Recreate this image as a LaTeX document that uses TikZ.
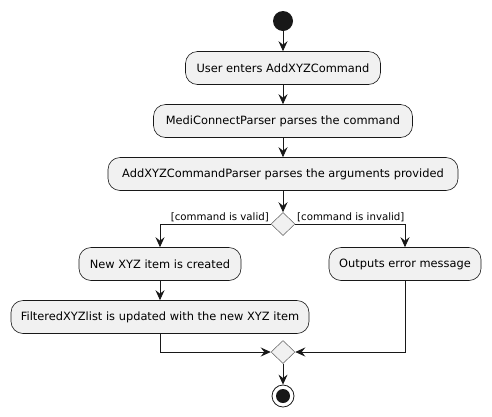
\documentclass[tikz,border=0pt]{standalone}
\usepackage{fontspec}
\setmainfont{DejaVu Sans}
\usetikzlibrary{arrows.meta,shapes.geometric}
\definecolor{boxfill}{HTML}{F1F1F1}
\definecolor{lin}{HTML}{181818}
\tikzset{
  act/.style={draw=lin, line width=0.6pt, fill=boxfill, rounded corners=12pt, minimum height=33pt, inner sep=0pt, font=\fontsize{11.4}{14}\selectfont, text=black},
  dec/.style={draw=lin!70, line width=0.5pt, fill=boxfill, diamond, minimum width=24pt, minimum height=23pt, inner sep=0pt, shape aspect=1},
  flow/.style={draw=lin, line width=0.8pt, -{Stealth[length=10pt,width=9pt,inset=3.5pt]}},
  lbl/.style={font=\fontsize{10.2}{12}\selectfont, inner sep=1pt}
}
\begin{document}
\begin{tikzpicture}[x=1pt,y=-1pt]
\useasboundingbox (0,0) rectangle (492,416);
\node[circle, fill=lin, minimum size=20pt, inner sep=0pt] (start) at (283,21) {};
\node[act, minimum width=195pt] (a1) at (283,68) {User enters AddXYZCommand};
\node[act, minimum width=259pt] (a2) at (283,121) {MediConnectParser parses the command};
\node[act, minimum width=350pt] (a3) at (283,174) {AddXYZCommandParser parses the arguments provided};
\node[dec] (d1) at (283,224) {};
\node[act, minimum width=162pt] (a4) at (160,264) {New XYZ item is created};
\node[act, minimum width=152pt] (a5) at (405,264) {Outputs error message};
\node[act, minimum width=298pt] (a6) at (160,317) {FilteredXYZlist is updated with the new XYZ item};
\node[dec] (d2) at (283,352) {};
\node[circle, draw=lin, line width=0.8pt, fill=white, minimum size=22pt, inner sep=0pt] (endo) at (283,396) {};
\node[circle, fill=lin, minimum size=14pt, inner sep=0pt] (endi) at (283,396) {};

\draw[flow] (start) -- (a1);
\draw[flow] (a1) -- (a2);
\draw[flow] (a2) -- (a3);
\draw[flow] (a3) -- (d1);
\draw[flow] (d1.west) -| (a4.north);
\draw[flow] (d1.east) -| (a5.north);
\draw[flow] (a4) -- (a6);
\draw[flow] (a6.south) |- (d2.west);
\draw[flow] (a5.south) |- (d2.east);
\draw[flow] (d2) -- (endo);
\node[lbl, anchor=south east] (l1) at (270,223) {[command is valid]};
\node[lbl, anchor=south west] (l2) at (296,223) {[command is invalid]};
\end{tikzpicture}
\end{document}
